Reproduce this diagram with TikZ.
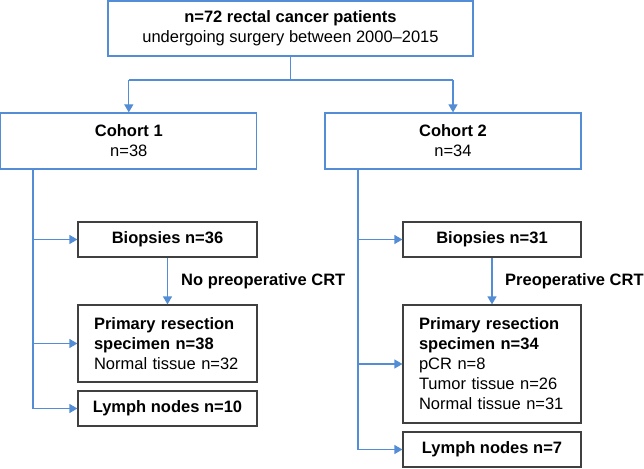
\documentclass[tikz,border=0pt]{standalone}
\usepackage{fontspec}
\setmainfont{Liberation Sans}
\usetikzlibrary{arrows.meta}
\definecolor{lineblue}{RGB}{83,141,213}
\definecolor{boxgray}{RGB}{64,64,64}
\begin{document}
\begin{tikzpicture}[x=1pt,y=-1pt,
  every node/.style={font=\fontsize{16.5}{20}\selectfont, inner sep=0pt},
  bluebox/.style={draw=lineblue, line width=1.2pt, rectangle, align=center},
  graybox/.style={draw=boxgray, line width=1.2pt, rectangle, align=center},
  leftbox/.style={graybox, align=left, inner xsep=16pt},
  conn/.style={draw=lineblue, line width=1.2pt},
  arr/.style={conn, -{Triangle[length=8pt,width=9pt]}},
  lbl/.style={font=\fontsize{16.5}{20}\selectfont\bfseries, anchor=west}]
\useasboundingbox (0,0) rectangle (644,468);

\node[bluebox, minimum width=365pt, minimum height=55pt] (top) at (290.5,28.5)
  {\textbf{n=72 rectal cancer patients}\\undergoing surgery between 2000–2015};

\node[bluebox, minimum width=256pt, minimum height=56pt] (c1) at (128.8,141)
  {\textbf{Cohort 1}\\n=38};
\node[bluebox, minimum width=256pt, minimum height=56pt] (c2) at (453,141)
  {\textbf{Cohort 2}\\n=34};

\node[graybox, minimum width=179pt, minimum height=35pt] (b1) at (167.5,239.5)
  {\textbf{Biopsies n=36}};
\node[leftbox, text width=147pt, minimum height=77pt] (p1) at (167.5,343.5)
  {\textbf{Primary resection}\\\textbf{specimen n=38}\\Normal tissue n=32};
\node[graybox, minimum width=179pt, minimum height=35pt] (l1) at (167.5,408.5)
  {\textbf{Lymph nodes n=10}};

\node[graybox, minimum width=178pt, minimum height=35pt] (b2) at (492,239.5)
  {\textbf{Biopsies n=31}};
\node[leftbox, text width=146pt, minimum height=118pt] (p2) at (492,364)
  {\textbf{Primary resection}\\\textbf{specimen n=34}\\pCR n=8\\Tumor tissue n=26\\Normal tissue n=31};
\node[graybox, minimum width=178pt, minimum height=35pt] (l2) at (492,449.5)
  {\textbf{Lymph nodes n=7}};

\node[lbl] (n1) at (181,281) {No preoperative CRT};
\node[lbl] (n2) at (505,281) {Preoperative CRT};

\coordinate (hmid) at (291,80);
\coordinate (tr1) at (33,0);
\coordinate (tr2) at (358,0);

\draw[conn] (top.south) -- (top.south |- hmid);
\draw[conn] (c1.north |- hmid) -- (c2.north |- hmid);
\draw[arr] (c1.north |- hmid) -- (c1.north);
\draw[arr] (c2.north |- hmid) -- (c2.north);

\draw[conn] (tr1 |- c1.south) -- (tr1 |- l1.west);
\draw[arr] (tr1 |- b1.west) -- (b1.west);
\draw[arr] (tr1 |- p1.west) -- (p1.west);
\draw[arr] (tr1 |- l1.west) -- (l1.west);

\draw[conn] (tr2 |- c2.south) -- (tr2 |- l2.west);
\draw[arr] (tr2 |- b2.west) -- (b2.west);
\draw[arr] (tr2 |- p2.west) -- (p2.west);
\draw[arr] (tr2 |- l2.west) -- (l2.west);

\draw[arr] (b1.south) -- (p1.north);
\draw[arr] (b2.south) -- (p2.north);
\end{tikzpicture}
\end{document}
